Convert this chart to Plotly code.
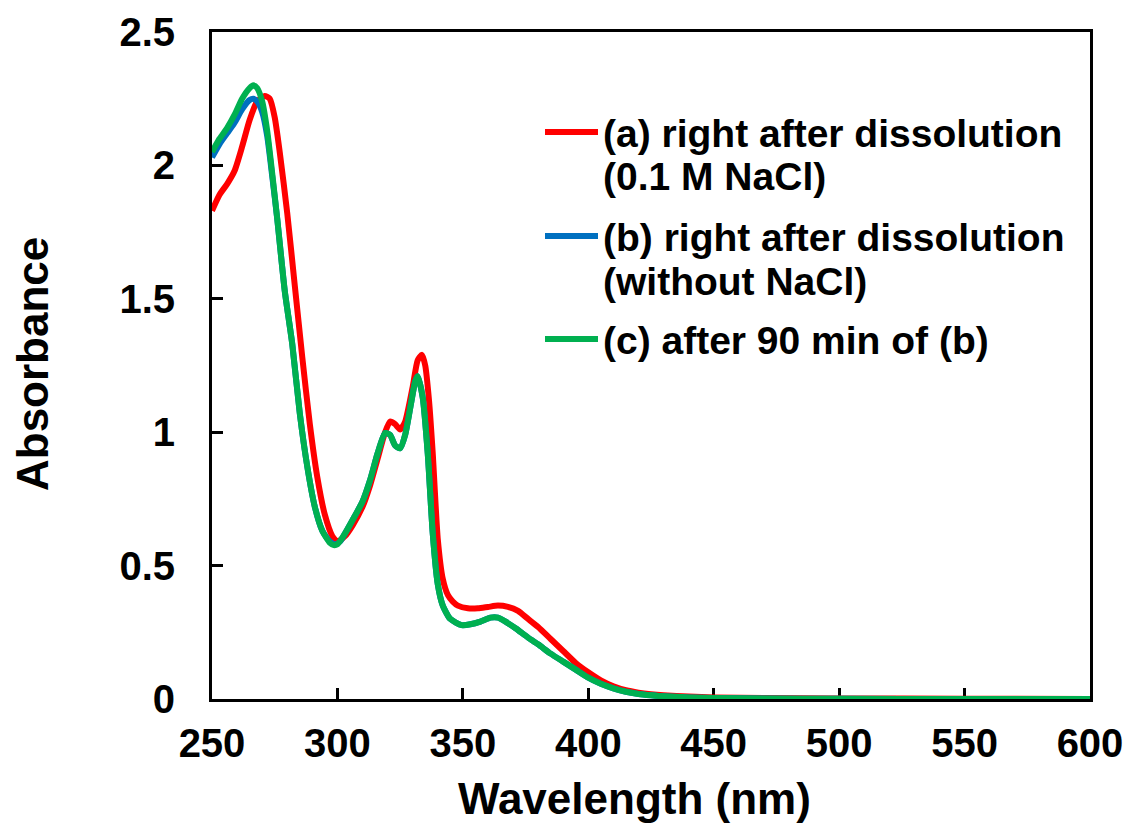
import plotly.graph_objects as go

# Absorption spectra (wavelength in nm, absorbance)
wl_a = [250, 253, 256, 259, 262, 265, 268, 271, 273, 275, 277, 280, 283, 286, 289,
        292, 295, 298, 300, 303, 306, 310, 313, 316, 319, 321, 323, 325, 327, 330,
        332, 333.7, 335, 336.5, 338, 340, 342, 344, 346, 348, 352, 356, 360, 364,
        368, 372, 376, 380, 385, 390, 395, 400, 405, 410, 415, 420, 425, 430, 440,
        450, 470, 500, 550, 600]
abs_a = [1.83, 1.89, 1.93, 1.98, 2.07, 2.17, 2.24, 2.26, 2.25, 2.18, 2.05, 1.82, 1.55, 1.28, 1.03,
         0.83, 0.69, 0.61, 0.59, 0.61, 0.65, 0.72, 0.80, 0.90, 1.00, 1.04, 1.03, 1.01, 1.04, 1.17,
         1.27, 1.29, 1.25, 1.12, 0.92, 0.60, 0.45, 0.39, 0.365, 0.35, 0.34, 0.34, 0.345, 0.35,
         0.345, 0.33, 0.30, 0.27, 0.225, 0.18, 0.135, 0.10, 0.07, 0.048, 0.033, 0.024, 0.018, 0.014, 0.009,
         0.006, 0.004, 0.002, 0.001, 0.0]

wl_b = [250, 253, 256, 259, 262, 265, 266.5, 268, 270, 272, 274, 276, 279, 282, 285,
        288, 291, 294, 297, 299, 301, 303, 306, 310, 313, 316, 319, 321, 323, 325,
        327, 329, 331, 332, 334, 336, 338, 340, 342, 345, 349.5, 353, 357, 361, 364,
        367, 371, 376, 380, 385, 390, 395, 400, 405, 410, 415, 420, 425, 430, 440,
        450, 470, 500, 550, 600]
abs_b = [2.03, 2.08, 2.12, 2.16, 2.21, 2.245, 2.25, 2.24, 2.20, 2.11, 1.96, 1.80, 1.53, 1.33, 1.07,
         0.87, 0.72, 0.63, 0.59, 0.58, 0.59, 0.62, 0.67, 0.74, 0.82, 0.92, 0.997, 0.99, 0.95, 0.94,
         0.99, 1.09, 1.19, 1.21, 1.13, 0.92, 0.62, 0.43, 0.35, 0.30, 0.277, 0.28, 0.29, 0.305, 0.305,
         0.29, 0.265, 0.23, 0.205, 0.17, 0.14, 0.11, 0.08, 0.057, 0.04, 0.027, 0.019, 0.014, 0.010, 0.006,
         0.004, 0.002, 0.001, 0.0, 0.0]

wl_c = [250, 253, 256, 259, 262, 265, 266.5, 268, 270, 272, 274, 276, 279, 282, 285,
        288, 291, 294, 297, 298.5, 300, 303, 306, 310, 313, 316, 319, 321, 323, 325,
        327, 329, 331, 332, 334, 336, 338, 340, 342, 345, 349.5, 353, 357, 361, 364,
        367, 371, 376, 380, 385, 390, 395, 400, 405, 410, 415, 420, 425, 430, 440,
        450, 470, 500, 550, 600]
abs_c = [2.05, 2.10, 2.14, 2.19, 2.25, 2.29, 2.30, 2.29, 2.24, 2.13, 1.97, 1.80, 1.53, 1.33, 1.07,
         0.87, 0.72, 0.63, 0.585, 0.577, 0.58, 0.62, 0.67, 0.74, 0.82, 0.92, 0.997, 0.99, 0.95, 0.94,
         0.99, 1.09, 1.19, 1.21, 1.13, 0.92, 0.62, 0.43, 0.35, 0.30, 0.277, 0.28, 0.29, 0.305, 0.305,
         0.29, 0.265, 0.23, 0.205, 0.17, 0.14, 0.11, 0.08, 0.057, 0.04, 0.027, 0.019, 0.014, 0.010, 0.006,
         0.004, 0.002, 0.001, 0.0, 0.0]

series_labels = [
    ["(a) right after dissolution", "(0.1 M NaCl)"],
    ["(b) right after dissolution", "(without NaCl)"],
    ["(c) after 90 min of (b)"],
]
series_colors = ["#FF0000", "#0070C0", "#00B050"]

x_ticks = [250, 300, 350, 400, 450, 500, 550, 600]
y_ticks = [0, 0.5, 1, 1.5, 2, 2.5]
y_tick_text = ["0", "0.5", "1", "1.5", "2", "2.5"]

FONT = "Liberation Sans, Arial, sans-serif"
W, H = 1124, 826
X0, X1, Y0, Y1 = 212, 1090, 699, 32  # plot area edges in pixels


def px_x(p):
    return (p - X0) / (X1 - X0)


def px_y(p):
    return (Y0 - p) / (Y0 - Y1)


fig = go.Figure()
for wl, ab, col in zip([wl_a, wl_b, wl_c], [abs_a, abs_b, abs_c], series_colors):
    fig.add_trace(go.Scatter(x=wl, y=ab, mode="lines", line=dict(color=col, width=6, shape="spline", smoothing=0.6),
                             showlegend=False, hoverinfo="skip"))

axis_common = dict(showline=True, linecolor="black", linewidth=3, mirror=True, ticks="inside",
                   ticklen=11, tickwidth=2.5, tickcolor="black", showgrid=False, zeroline=False,
                   layer="below traces", automargin=False,
                   tickfont=dict(family=FONT, size=40, color="black", weight="bold"))

fig.update_xaxes(range=[250, 600], tickvals=x_ticks, ticklabelstandoff=7, **axis_common)
fig.update_yaxes(range=[0, 2.5], tickvals=y_ticks, ticktext=y_tick_text, ticklabelstandoff=26, **axis_common)

annotations = [
    dict(text="Absorbance", x=px_x(32), y=px_y(364), textangle=-90,
         font=dict(family=FONT, size=44, color="black", weight="bold")),
    dict(text="Wavelength (nm)", x=px_x(634), y=px_y(798),
         font=dict(family=FONT, size=44, color="black", weight="bold")),
]
shapes = []

# legend block: coloured sample line plus one or two text lines per series
entry_tops = [133, 237, 340]
for lines, col, y_top in zip(series_labels, series_colors, entry_tops):
    shapes.append(dict(type="line", xref="paper", yref="paper", x0=px_x(545), x1=px_x(598),
                       y0=px_y(y_top - 1), y1=px_y(y_top - 1), line=dict(color=col, width=6)))
    for i, t in enumerate(lines):
        annotations.append(dict(text=t, x=px_x(601), y=px_y(y_top + i * 44), xanchor="left",
                                font=dict(family=FONT, size=39, color="black", weight="bold")))

for a in annotations:
    a.update(xref="paper", yref="paper", showarrow=False)
    a.setdefault("xanchor", "center")
    a.setdefault("yanchor", "middle")

fig.update_layout(width=W, height=H, margin=dict(l=X0, r=W - X1, t=Y1, b=H - Y0, autoexpand=False),
                  paper_bgcolor="white", plot_bgcolor="white",
                  annotations=annotations, shapes=shapes, showlegend=False)

fig.write_html("out.html")
